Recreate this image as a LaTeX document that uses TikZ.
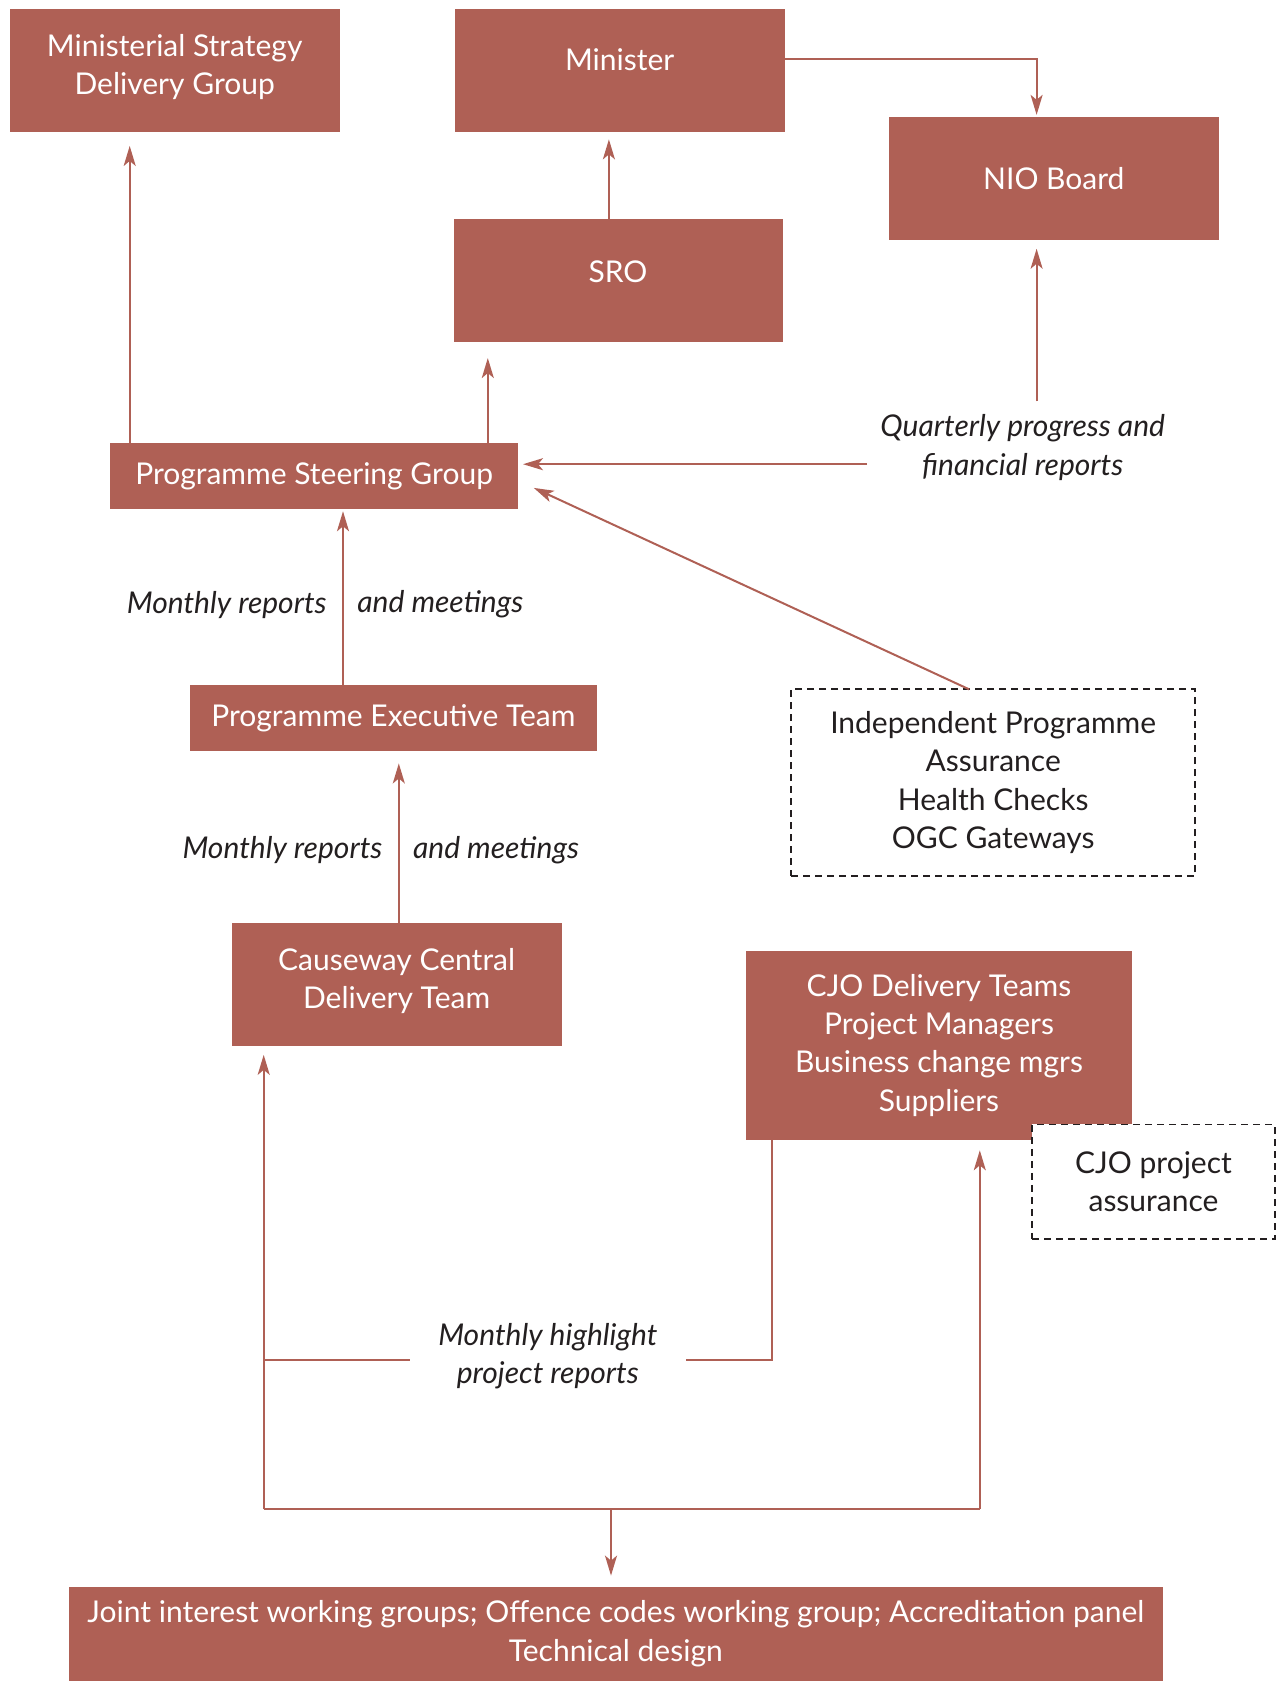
\documentclass[tikz,border=0pt]{standalone}
\usepackage{fontspec}
\setmainfont{Lato}
\usetikzlibrary{arrows.meta}
\definecolor{brick}{RGB}{175,96,85}
\definecolor{ink}{RGB}{35,31,32}

\begin{document}
\begin{tikzpicture}[x=0.5pt, y=-0.5pt,
    box/.style={rectangle, fill=brick, text=white, align=center, inner sep=0pt, outer sep=0pt,
        font=\fontsize{15}{19.2}\selectfont},
    dashbox/.style={rectangle, draw=ink, fill=white, line width=0.9pt, dash pattern=on 3.5pt off 2.5pt,
        text=ink, align=center, inner sep=0pt, outer sep=0pt, font=\fontsize{15}{19.2}\selectfont},
    note/.style={text=ink, align=center, inner sep=0pt, font=\fontsize{15}{19.2}\selectfont\itshape},
    link/.style={draw=brick, line width=1pt},
    arr/.style={link, -{Stealth[length=10pt, width=6pt, inset=2.5pt]}}]
    \useasboundingbox (0,0) rectangle (1281,1681);
    % top row
    \node[box, minimum width=165.1pt, minimum height=61.65pt, text depth=6pt] (msdg) at (174.7,70.3)
        {Ministerial Strategy\\Delivery Group};
    \node[box, minimum width=165.1pt, minimum height=61.65pt, text depth=11pt] (minister) at (619.6,70.3) {Minister};
    \node[box, minimum width=165.1pt, minimum height=61.65pt] (nio) at (1053.8,178.5) {NIO Board};
    \node[box, minimum width=164.5pt, minimum height=61.65pt, text depth=9pt] (sro) at (618,280.4) {SRO};
    % programme level
    \node[box, minimum width=203.7pt, minimum height=33.25pt] (psg) at (314.1,476) {Programme Steering Group};
    \node[box, minimum width=203.7pt, minimum height=33.25pt] (pet) at (393.4,718.2) {Programme Executive Team};
    \node[dashbox, minimum width=202.1pt, minimum height=93.25pt] (ipa) at (993.2,782.6)
        {Independent Programme\\Assurance\\Health Checks\\OGC Gateways};
    % delivery level
    \node[box, minimum width=165pt, minimum height=61.65pt, text depth=6pt] (ccdt) at (396.6,984.6)
        {Causeway Central\\Delivery Team};
    \node[box, minimum width=193pt, minimum height=94.3pt] (cjo) at (939,1045.2)
        {CJO Delivery Teams\\Project Managers\\Business change mgrs\\Suppliers};
    \node[dashbox, minimum width=121.2pt, minimum height=57.35pt] (cjopa) at (1153.5,1181.8)
        {CJO project\\assurance};
    \node[box, minimum width=547.3pt, minimum height=47.2pt] (jwg) at (615.8,1633.8)
        {Joint interest working groups; Offence codes working group; Accreditation panel\\Technical design};
    % labels
    \node[note, inner sep=6.5pt] (qpr) at (1022.7,447.5) {Quarterly progress and\\financial reports};
    \node[note, anchor=east] (mr1) at (327,604.6) {Monthly reports};
    \node[note, anchor=west] (am1) at (357,604.6) {and meetings};
    \node[note, anchor=east] (mr2) at (382.7,850) {Monthly reports};
    \node[note, anchor=west] (am2) at (412.7,850) {and meetings};
    \node[note, inner xsep=14pt] (mhl) at (547.8,1356) {Monthly highlight\\project reports};
    % upward reporting
    \draw[arr, shorten >=7pt] (psg.north -| 129.7,0) -- (msdg.south -| 129.7,0);
    \draw[arr, shorten >=8pt] (psg.north -| 487.8,0) -- (sro.south -| 487.8,0);
    \draw[arr, shorten >=3.7pt] (sro.north -| 608.9,0) -- (minister.south -| 608.9,0);
    \draw[arr, shorten >=1pt] (minister.east |- 0,59) -| (nio.north -| 1036.6,0);
    \draw[arr, shorten >=4.3pt] (qpr.north -| 1036.6,0) -- (nio.south -| 1036.6,0);
    \draw[arr, shorten >=2.6pt] (qpr.west |- 0,464.2) -- (psg.east |- 0,464.2);
    \draw[arr, shorten >=8.8pt] ([xshift=-12pt]ipa.north) -- ([yshift=-2.25pt]psg.east);
    \draw[arr, shorten >=1pt] (pet.north -| 343,0) -- (psg.south -| 343,0);
    \draw[arr, shorten >=6pt] (ccdt.north -| 398.8,0) -- (pet.south -| 398.8,0);
    % bottom loop
    \coordinate (lc) at (263.7,1509.4);
    \coordinate (rc) at (979.8,1509.4);
    \coordinate (hub) at (611,1509.4);
    \draw[link] (lc) -- (rc);
    \draw[arr, shorten >=4.3pt] (lc) -- (lc |- ccdt.south);
    \draw[arr, shorten >=5.4pt] (rc) -- (rc |- cjo.south);
    \draw[arr, shorten >=5.5pt] (hub) -- (hub |- jwg.north);
    \draw[link] (cjo.south -| 771.8,0) |- (mhl.east |- 0,1360.4);
    \draw[link] (mhl.west |- 0,1360.4) -- (lc |- 0,1360.4);
\end{tikzpicture}
\end{document}
